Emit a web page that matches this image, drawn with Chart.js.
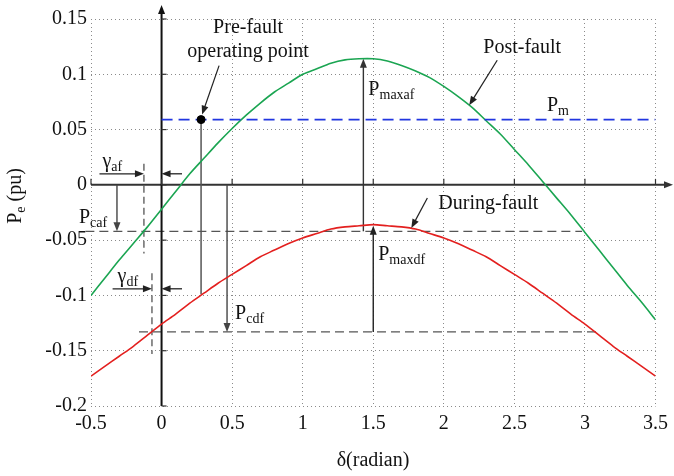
<!DOCTYPE html>
<html>
<head>
<meta charset="utf-8">
<script src="https://cdn.jsdelivr.net/npm/chart.js@4"></script>
<style>
  body { margin: 0; background: #fff; }
</style>
</head>
<body>
<canvas id="powerAngle" width="674" height="476"></canvas>
<script>
// rotor angle samples (rad)
const delta = [-0.5, -0.4, -0.3, -0.2, -0.1, 0, 0.1, 0.2, 0.3, 0.4, 0.5, 0.6, 0.7, 0.8, 0.9,
  1.0, 1.1, 1.2, 1.3, 1.4, 1.5, 1.6, 1.7, 1.8, 1.9, 2.0, 2.1, 2.2, 2.3, 2.4, 2.5, 2.6, 2.7,
  2.8, 2.9, 3.0, 3.1, 3.2, 3.3, 3.4, 3.5];
// electrical power (pu)
const postFault = [-0.100, -0.084, -0.068, -0.053, -0.038, -0.022, -0.006, 0.010, 0.024, 0.038,
  0.051, 0.063, 0.074, 0.084, 0.092, 0.100, 0.105, 0.110, 0.113, 0.114, 0.114, 0.112, 0.108,
  0.103, 0.097, 0.089, 0.080, 0.070, 0.058, 0.046, 0.032, 0.018, 0.003, -0.012, -0.027, -0.043,
  -0.059, -0.075, -0.091, -0.106, -0.122];
const duringFault = [-0.173, -0.164, -0.155, -0.146, -0.136, -0.126, -0.117, -0.107, -0.098, -0.089,
  -0.081, -0.073, -0.065, -0.059, -0.053, -0.048, -0.044, -0.040, -0.038, -0.037, -0.036, -0.037,
  -0.038, -0.040, -0.044, -0.048, -0.053, -0.059, -0.065, -0.073, -0.081, -0.089, -0.098, -0.107,
  -0.117, -0.126, -0.136, -0.146, -0.155, -0.164, -0.173];
const pm = 0.059;
const pmSpan = [0, 3.5];
const preFault = { x: 0.28, y: pm };
const preFaultDrop = -0.099;

// offsets and peaks of the two sine curves
const pcaf = -0.042, pcafSpan = [-0.54, 2.98], pcafArrowX = -0.316;
const pcdf = -0.133, pcdfSpan = [-0.16, 3.09], pcdfArrowX = 0.464;
const pmaxaf = { x: 1.43, y: 0.114 };
const pmaxdf = { x: 1.5, y: -0.037 };
const gammaAf = -0.125, gammaAfSpan = [0.019, -0.062], gammaAfArrow = [-0.44, 0.145, 0.010];
const gammaDf = -0.068, gammaDfSpan = [-0.08, -0.153], gammaDfArrow = [-0.347, 0.145, -0.094];
const postFaultTip = { x: 2.18, y: 0.072 };
const duringFaultTip = { x: 1.77, y: -0.039 };

const xTicks = { min: -0.5, max: 3.5, step: 0.5 };
const yTicks = { min: -0.2, max: 0.15, step: 0.05 };

const SERIF = '"Liberation Serif", "Times New Roman", serif';

function arrow(ctx, x1, y1, x2, y2, color, width) {
  const a = Math.atan2(y2 - y1, x2 - x1);
  const len = 9, half = 3.5;
  ctx.save();
  ctx.strokeStyle = color;
  ctx.fillStyle = color;
  ctx.lineWidth = width || 1.3;
  ctx.setLineDash([]);
  ctx.beginPath();
  ctx.moveTo(x1, y1);
  ctx.lineTo(x2 - Math.cos(a) * len * 0.8, y2 - Math.sin(a) * len * 0.8);
  ctx.stroke();
  ctx.beginPath();
  ctx.moveTo(x2, y2);
  ctx.lineTo(x2 - Math.cos(a) * len - Math.sin(a) * half, y2 - Math.sin(a) * len + Math.cos(a) * half);
  ctx.lineTo(x2 - Math.cos(a) * len + Math.sin(a) * half, y2 - Math.sin(a) * len - Math.cos(a) * half);
  ctx.closePath();
  ctx.fill();
  ctx.restore();
}

function line(ctx, x1, y1, x2, y2, color, width, dash) {
  ctx.save();
  ctx.strokeStyle = color;
  ctx.lineWidth = width;
  ctx.setLineDash(dash || []);
  ctx.beginPath();
  ctx.moveTo(x1, y1);
  ctx.lineTo(x2, y2);
  ctx.stroke();
  ctx.restore();
}

// text with an optional subscript, e.g. P + "caf"
function subText(ctx, base, sub, x, y, align) {
  ctx.save();
  ctx.fillStyle = '#111';
  ctx.textBaseline = 'alphabetic';
  ctx.textAlign = 'left';
  ctx.font = '20px ' + SERIF;
  const w1 = ctx.measureText(base).width;
  ctx.font = '14px ' + SERIF;
  const w2 = sub ? ctx.measureText(sub).width : 0;
  let left = x;
  if (align === 'center') left = x - (w1 + w2) / 2;
  if (align === 'right') left = x - (w1 + w2);
  ctx.font = '20px ' + SERIF;
  ctx.fillText(base, left, y);
  if (sub) {
    ctx.font = '14px ' + SERIF;
    ctx.fillText(sub, left + w1, y + 4);
  }
  ctx.restore();
}

const sketch = {
  id: 'sketch',
  beforeDatasetsDraw(chart) {
    const ctx = chart.ctx;
    const xs = chart.scales.x, ys = chart.scales.y;
    const area = chart.chartArea;
    const px = v => xs.getPixelForValue(v);
    const py = v => ys.getPixelForValue(v);
    const x0 = px(0), y0 = py(0);
    const dash = [9, 5];

    // dashed guides
    line(ctx, px(pcafSpan[0]), py(pcaf), px(pcafSpan[1]), py(pcaf), '#555', 1.3, dash);
    line(ctx, px(pcdfSpan[0]), py(pcdf), px(pcdfSpan[1]), py(pcdf), '#555', 1.3, dash);
    line(ctx, px(gammaAf), py(gammaAfSpan[0]), px(gammaAf), py(gammaAfSpan[1]), '#555', 1.3, [7, 4]);
    line(ctx, px(gammaDf), py(gammaDfSpan[0]), px(gammaDf), py(gammaDfSpan[1]), '#555', 1.3, [7, 4]);

    // central axes with arrowheads
    arrow(ctx, area.left, y0, 673, y0, '#333', 2);
    arrow(ctx, x0, area.bottom, x0, 5, '#111', 2);
    ys.ticks.forEach(t => line(ctx, x0, py(t.value), x0 + 5, py(t.value), '#333', 1.2));
    xs.ticks.forEach(t => line(ctx, px(t.value), y0, px(t.value), y0 - 6, '#333', 1.2));

    // offsets and amplitudes
    arrow(ctx, px(pcafArrowX), y0, px(pcafArrowX), py(pcaf), '#444', 1.4);
    arrow(ctx, px(pcdfArrowX), y0, px(pcdfArrowX), py(pcdf), '#444', 1.4);
    arrow(ctx, px(pmaxaf.x), py(pcaf), px(pmaxaf.x), py(pmaxaf.y), '#333', 1.4);
    arrow(ctx, px(pmaxdf.x), py(pcdf), px(pmaxdf.x), py(pmaxdf.y), '#222', 1.4);
    line(ctx, px(preFault.x), py(preFault.y), px(preFault.x), py(preFaultDrop), '#555', 1.5);

    // angle shifts
    arrow(ctx, px(gammaAfArrow[0]), py(gammaAfArrow[2]), px(gammaAf), py(gammaAfArrow[2]), '#222', 1.3);
    arrow(ctx, px(gammaAfArrow[1]), py(gammaAfArrow[2]), x0, py(gammaAfArrow[2]), '#222', 1.3);
    arrow(ctx, px(gammaDfArrow[0]), py(gammaDfArrow[2]), px(gammaDf), py(gammaDfArrow[2]), '#222', 1.3);
    arrow(ctx, px(gammaDfArrow[1]), py(gammaDfArrow[2]), x0, py(gammaDfArrow[2]), '#222', 1.3);
  },
  afterDatasetsDraw(chart) {
    const ctx = chart.ctx;
    const xs = chart.scales.x, ys = chart.scales.y;
    const px = v => xs.getPixelForValue(v);
    const py = v => ys.getPixelForValue(v);

    // callouts
    const pfx = px(preFault.x), pfy = py(preFault.y);
    arrow(ctx, pfx + 18, pfy - 54, pfx + 1, pfy - 5, '#222', 1.2);
    subText(ctx, 'Pre-fault', '', pfx + 47, 33, 'center');
    subText(ctx, 'operating point', '', pfx + 47, 57, 'center');

    const tx = px(postFaultTip.x), ty = py(postFaultTip.y);
    arrow(ctx, tx + 28, ty - 45, tx, ty, '#222', 1.2);
    subText(ctx, 'Post-fault', '', tx + 53, ty - 52, 'center');

    const dx = px(duringFaultTip.x), dy = py(duringFaultTip.y);
    arrow(ctx, dx + 16, dy - 30, dx, dy, '#222', 1.2);
    subText(ctx, 'During-fault', '', dx + 77, dy - 19, 'center');

    subText(ctx, 'P', 'm', 547, py(pm) - 9);
    subText(ctx, 'P', 'maxaf', px(pmaxaf.x) + 5, py(pmaxaf.y) + 36);
    subText(ctx, 'P', 'maxdf', px(pmaxdf.x) + 5, py(pmaxdf.y) + 34);
    subText(ctx, 'P', 'caf', px(pcafArrowX) - 38, py(pcaf) - 8);
    subText(ctx, 'P', 'cdf', px(pcdfArrowX) + 8, py(pcdf) - 13);
    subText(ctx, 'γ', 'af', px(gammaAfArrow[0]) + 3, py(gammaAfArrow[2]) - 7);
    subText(ctx, 'γ', 'df', px(gammaDfArrow[0]) + 5, py(gammaDfArrow[2]) - 7);

    // axis titles
    subText(ctx, 'δ(radian)', '', 373, 466, 'center');
    ctx.save();
    ctx.translate(21, 196);
    ctx.rotate(-Math.PI / 2);
    ctx.font = '20px ' + SERIF;
    const wP = ctx.measureText('P').width, wU = ctx.measureText(' (pu)').width;
    ctx.font = '14px ' + SERIF;
    const wE = ctx.measureText('e').width;
    subText(ctx, 'P', 'e', -(wP + wE + wU) / 2, 0);
    subText(ctx, ' (pu)', '', -(wP + wE + wU) / 2 + wP + wE, 0);
    ctx.restore();
  }
};

const toPoints = ys => delta.map((d, i) => ({ x: d, y: ys[i] }));

new Chart(document.getElementById('powerAngle'), {
  type: 'line',
  data: {
    datasets: [
      {
        label: 'Post-fault',
        data: toPoints(postFault),
        borderColor: '#1ba552',
        borderWidth: 1.6,
        pointRadius: 0,
        tension: 0.3,
        order: 2
      },
      {
        label: 'During-fault',
        data: toPoints(duringFault),
        borderColor: '#e3201f',
        borderWidth: 1.6,
        pointRadius: 0,
        tension: 0.3,
        order: 3
      },
      {
        label: 'Pm',
        data: pmSpan.map(d => ({ x: d, y: pm })),
        borderColor: '#2136e0',
        borderWidth: 1.6,
        borderDash: [11, 6],
        pointRadius: 0,
        order: 1
      },
      {
        // drawn last so it sits above the Pm line
        label: 'Pre-fault operating point',
        data: [preFault],
        showLine: false,
        pointRadius: 4,
        pointBackgroundColor: '#000',
        pointBorderColor: '#000',
        order: 0
      }
    ]
  },
  options: {
    responsive: false,
    animation: false,
    events: [],
    layout: { padding: { top: 19, right: 18, left: 0, bottom: 0 } },
    plugins: { legend: { display: false }, tooltip: { enabled: false } },
    scales: {
      x: {
        type: 'linear',
        min: xTicks.min,
        max: xTicks.max,
        afterFit: s => { s.height = 70; },
        border: { display: false, dash: [1, 3] },
        grid: { color: '#8a8a8a', lineWidth: 1, drawTicks: false },
        ticks: {
          stepSize: xTicks.step,
          padding: 6,
          color: '#111',
          font: { family: SERIF, size: 20 },
          callback: v => String(+v.toFixed(2))
        }
      },
      y: {
        type: 'linear',
        min: yTicks.min,
        max: yTicks.max,
        afterFit: s => { s.width = 91; },
        border: { display: false, dash: [1, 3] },
        grid: { color: '#8a8a8a', lineWidth: 1, drawTicks: false },
        ticks: {
          stepSize: yTicks.step,
          padding: 4,
          color: '#111',
          font: { family: SERIF, size: 20 },
          callback: v => String(+v.toFixed(2))
        }
      }
    }
  },
  plugins: [sketch]
});
</script>
</body>
</html>
